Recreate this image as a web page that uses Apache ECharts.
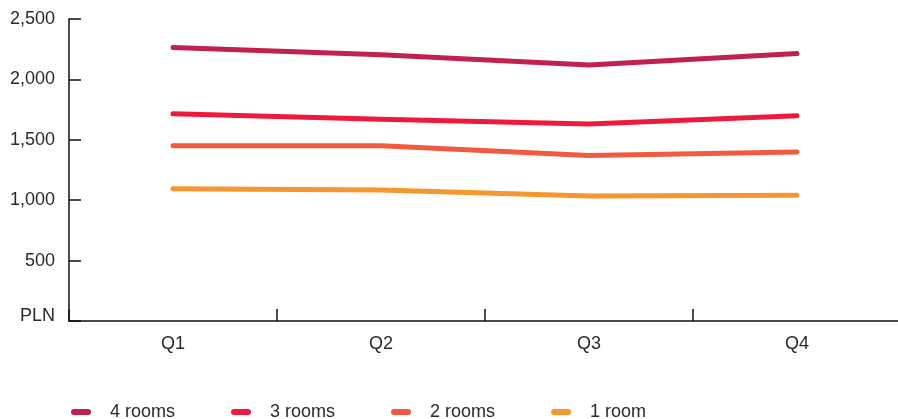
<!DOCTYPE html>
<html><head><meta charset="utf-8">
<script src="https://cdn.jsdelivr.net/npm/echarts@6/dist/echarts.min.js"></script>
<style>html,body{margin:0;padding:0;background:#fff;overflow:hidden}#c{width:906px;height:419px}</style>
</head><body><div id="c"></div>
<script>
const categories = ['Q1','Q2','Q3','Q4'];
const rooms4 = [2265, 2205, 2120, 2215];
const rooms3 = [1715, 1670, 1630, 1700];
const rooms2 = [1450, 1450, 1370, 1400];
const rooms1 = [1095, 1085, 1035, 1040];
const yTicks = [0, 500, 1000, 1500, 2000, 2500];
const seriesNames = ['4 rooms','3 rooms','2 rooms','1 room'];
const colors = ['#c0214f','#ee1a3d','#f15a41','#f7952f'];
const font = 'Liberation Sans, Arial, Helvetica, sans-serif';
const chart = echarts.init(document.getElementById('c'), null, {renderer:'canvas'});
const dataList = [rooms4, rooms3, rooms2, rooms1];
chart.setOption({
  animation: false,
  grid: {left: 69, width: 832, top: 19, bottom: 98, containLabel: false},
  legend: {
    left: 71, top: 403, padding: 0, itemWidth: 20, itemHeight: 6, itemGap: 56,
    icon: 'path://M3,0 H17 A3,3 0 0 1 17,6 H3 A3,3 0 0 1 3,0 Z',
    textStyle: {fontFamily: font, fontSize: 18, color: '#2a2a2a', padding: [0,0,0,14]},
    data: seriesNames
  },
  xAxis: {
    type: 'category', data: categories, boundaryGap: true,
    axisLine: {show: true, lineStyle: {color: '#111', width: 1.5}},
    axisTick: {show: true, inside: true, length: 12, lineStyle: {color: '#111', width: 1.5}, interval: 0},
    axisLabel: {fontFamily: font, fontSize: 18, color: '#2a2a2a', margin: 14}
  },
  yAxis: {
    type: 'value', min: 0, max: 2500, interval: 500,
    axisLine: {show: true, lineStyle: {color: '#111', width: 1.5}},
    axisTick: {show: true, inside: true, length: 12, lineStyle: {color: '#111', width: 1.5}},
    splitLine: {show: false},
    axisLabel: {
      fontFamily: font, fontSize: 18, color: '#2a2a2a', margin: 14,
      formatter: v => v === 0 ? '{p|PLN}' : v.toLocaleString('en-US'),
      rich: {p: {fontFamily: font, fontSize: 18, color: '#2a2a2a', padding: [0,0,10,0]}}
    }
  },
  series: dataList.map((d, i) => ({
    name: seriesNames[i], type: 'line', data: d, showSymbol: false, symbol: 'none',
    color: colors[i],
    lineStyle: {width: 5, color: colors[i], cap: 'round', join: 'round'}
  }))
});
</script></body></html>
